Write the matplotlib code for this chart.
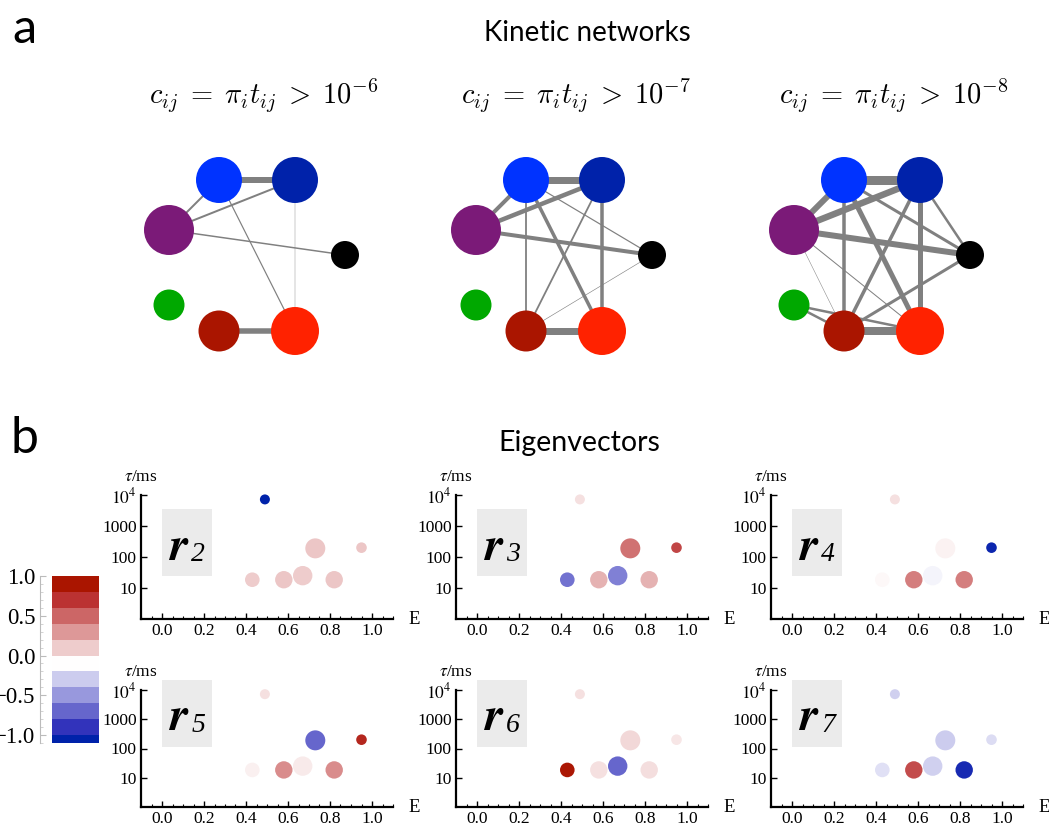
import numpy as np
import matplotlib
matplotlib.use("Agg")
import matplotlib.pyplot as plt
from matplotlib.patches import Circle, Rectangle
from matplotlib.colors import LinearSegmentedColormap, Normalize
from matplotlib.ticker import FixedLocator, FixedFormatter, MultipleLocator, NullLocator

plt.rcParams['font.family'] = ['Liberation Serif', 'DejaVu Serif']
plt.rcParams['mathtext.fontset'] = 'stix'

# ---- kinetic network: 7 states ----
node_x = [50, 126, 0, 176, 0, 50, 126]
node_y = [50, 50, 0, -25, -75, -101, -101]
node_r = [23, 23, 25, 14, 15.5, 20.5, 24]
node_colors = ['#0033FF', '#0022AA', '#7B1A78', '#000000', '#00A800', '#AA1500', '#FF2200']

thresholds = [-6, -7, -8]
# (i, j, edge width) for every pair with c_ij above threshold
edges_1e6 = [(0, 1, 6.0), (5, 6, 5.5), (2, 0, 2.0), (2, 1, 2.0), (2, 3, 1.5),
             (0, 6, 1.2), (1, 6, 0.4)]
edges_1e7 = [(0, 1, 7.0), (5, 6, 7.0), (2, 0, 4.0), (2, 1, 4.5), (2, 3, 4.0),
             (0, 3, 1.2), (0, 5, 1.8), (0, 6, 3.5), (1, 5, 1.8), (1, 6, 3.5),
             (3, 5, 0.6)]
edges_1e8 = [(0, 1, 9.0), (5, 6, 8.0), (2, 0, 6.0), (2, 1, 6.5), (2, 3, 6.0),
             (0, 3, 3.0), (1, 3, 2.5), (0, 5, 3.5), (0, 6, 5.0), (1, 5, 3.5),
             (1, 6, 5.0), (3, 5, 3.0), (2, 5, 0.5), (2, 6, 1.0), (4, 5, 2.5),
             (4, 6, 2.5)]
network_edges = [edges_1e6, edges_1e7, edges_1e8]
network_origin = [(169, 230), (476, 230), (794, 230)]
title_x = [264, 576, 894]

# ---- eigenvectors on the (E, tau) map ----
E_vals = [0.49, 0.43, 0.58, 0.67, 0.73, 0.82, 0.95]
tau_vals = [7200, 18.5, 18.5, 25, 190, 18.5, 200]
state_size = [5.0, 7.3, 8.7, 9.7, 10.0, 8.7, 5.3]

eig_index = [2, 3, 4, 5, 6, 7]
r2 = [-1.0, 0.20, 0.22, 0.20, 0.22, 0.22, 0.22]
r3 = [0.12, -0.55, 0.30, -0.50, 0.55, 0.30, 0.72]
r4 = [0.12, 0.03, 0.50, -0.04, 0.05, 0.50, -0.95]
r5 = [0.12, 0.06, 0.45, 0.08, -0.60, 0.45, 0.88]
r6 = [0.12, 0.98, 0.12, -0.60, 0.15, 0.13, 0.10]
r7 = [-0.18, -0.12, 0.70, -0.18, -0.20, -0.90, -0.14]
eigvecs = [r2, r3, r4, r5, r6, r7]

cb_bounds = [-1.1, -1.0, -0.8, -0.6, -0.4, -0.2, 0.0, 0.2, 0.4, 0.6, 0.8, 1.0]
cb_ticks = [-1.0, -0.5, 0.0, 0.5, 1.0]

cmap = LinearSegmentedColormap.from_list('rdbu', [
    '#0022AA', '#3333BB', '#6666CC', '#9999DD', '#CCCCEE', '#FFFFFF',
    '#EECCCC', '#DD9999', '#CC6666', '#BB3333', '#AA1500'])
norm = Normalize(-1, 1)

W, H = 1049, 825
fig = plt.figure(figsize=(W / 100, H / 100), dpi=100)


def px_axes(left, top, width, height):
    return fig.add_axes([left / W, 1 - (top + height) / H, width / W, height / H])


def px_text(x, y, s, **kw):
    return fig.text(x / W, 1 - y / H, s, **kw)


sans = ['Lato', 'DejaVu Sans']
px_text(12, 43, 'a', fontsize=35, family=sans, va='baseline')
px_text(11, 453, 'b', fontsize=36, family=sans, va='baseline')
px_text(587, 33, 'Kinetic networks', fontsize=20, family=sans, ha='center', va='center')
px_text(579, 443, 'Eigenvectors', fontsize=20.5, family=sans, ha='center', va='center')

# ---- panel a ----
for k, (edges, (ox, oy)) in enumerate(zip(network_edges, network_origin)):
    ax = px_axes(ox - 40, oy - 110, 240, 240)
    ax.set_xlim(-40, 200)
    ax.set_ylim(-130, 110)
    ax.set_aspect('equal')
    ax.axis('off')
    for i, j, w in edges:
        ax.plot([node_x[i], node_x[j]], [node_y[i], node_y[j]], color='#808080',
                lw=w * 0.72, solid_capstyle='butt', zorder=1)
    for x, y, r, c in zip(node_x, node_y, node_r, node_colors):
        ax.add_patch(Circle((x, y), r, facecolor=c, edgecolor='none', zorder=2))
    px_text(title_x[k], 96,
            r'$c_{ij}\;=\;\pi_i t_{ij}\;>\;10^{%d}$' % thresholds[k],
            fontsize=20.5, math_fontfamily='cm', ha='center', va='center')

# ---- panel b ----
row_top = [495, 690]
row_h = [124, 117]
row_box = [(24, 3500), (112, 22000)]
sizes = [(2 * r * 0.72) ** 2 for r in state_size]

for k, (n, vec) in enumerate(zip(eig_index, eigvecs)):
    row, col = divmod(k, 3)
    ax = px_axes(141 + 315 * col, row_top[row], 252, row_h[row])
    ax.set_xlim(-0.1, 1.1)
    ax.set_yscale('log')
    ax.set_ylim(1, 1e4)
    for side in ['top', 'right']:
        ax.spines[side].set_visible(False)
    for side in ['left', 'bottom']:
        ax.spines[side].set_linewidth(1.6)

    lo, hi = row_box[row]
    ax.add_patch(Rectangle((0.0, lo), 0.24, hi - lo, facecolor='#EBEBEB',
                           edgecolor='none', zorder=0, clip_on=False))
    name = ax.annotate(r'$\mathbfit{r}$', xy=(0.132, lo), xycoords='data',
                       xytext=(0, 12), textcoords='offset points',
                       ha='right', va='baseline', fontsize=34,
                       annotation_clip=False)
    ax.annotate(str(n), xy=(1, 0), xycoords=name, xytext=(1, 2),
                textcoords='offset points', ha='left', va='bottom',
                fontsize=20, style='italic', annotation_clip=False)

    ax.scatter(E_vals, tau_vals, s=sizes, c=vec, cmap=cmap, norm=norm,
               edgecolors='none', zorder=3, clip_on=False)

    ax.yaxis.set_major_locator(FixedLocator([10, 100, 1000, 1e4]))
    ax.yaxis.set_major_formatter(FixedFormatter(['10', '100', '1000', '$10^4$']))
    ax.yaxis.set_minor_locator(NullLocator())
    ax.xaxis.set_minor_locator(MultipleLocator(0.05))
    ax.set_xticks([0.0, 0.2, 0.4, 0.6, 0.8, 1.0])
    ax.set_xticklabels(['0.0', '0.2', '0.4', '0.6', '0.8', '1.0'])
    ax.tick_params(which='major', direction='in', length=4, width=1, labelsize=12.5, pad=3)
    ax.tick_params(which='minor', direction='in', length=2, width=0.8)

    ax.annotate(r'$\tau$/ms', xy=(0, 1), xycoords='axes fraction', xytext=(0, 7),
                textcoords='offset points', ha='center', va='bottom', fontsize=12.5)
    ax.annotate('E', xy=(1, 0), xycoords='axes fraction', xytext=(11, 0),
                textcoords='offset points', ha='left', va='center', fontsize=13.5)

# ---- colour legend ----
cax = px_axes(52, 576, 47, 167)
for lo, hi in zip(cb_bounds[:-1], cb_bounds[1:]):
    cax.bar(0.5, hi - lo, bottom=lo, width=1.0, color=cmap(norm(hi)), edgecolor='none')
cax.set_xlim(0, 1)
cax.set_ylim(cb_bounds[0], cb_bounds[-1])
for side in ['top', 'right', 'bottom']:
    cax.spines[side].set_visible(False)
cax.spines['left'].set_position(('outward', 9))
cax.spines['left'].set_color('#BBBBBB')
cax.spines['left'].set_linewidth(0.8)
cax.set_xticks([])
cax.set_yticks(cb_ticks)
cax.set_yticklabels(['\u22121.0', '\u22120.5', '0.0', '0.5', '1.0'])
cax.yaxis.set_minor_locator(MultipleLocator(0.1))
cax.tick_params(axis='y', which='major', direction='in', length=4, color='#BBBBBB',
                labelsize=16.5, pad=3)
cax.tick_params(axis='y', which='minor', direction='in', length=2.5, color='#CCCCCC')

fig.savefig('out.png', dpi=100)
